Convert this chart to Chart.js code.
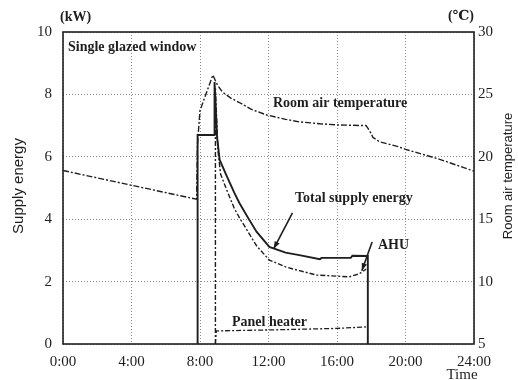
<!DOCTYPE html>
<html>
<head>
<meta charset="utf-8">
<script src="https://cdn.jsdelivr.net/npm/chart.js@4.4.0/dist/chart.umd.min.js"></script>
<style>
  body { margin: 0; background: #fff; }
  #wrap { width: 518px; height: 380px; }
</style>
</head>
<body>
<div id="wrap"><canvas id="energyChart"></canvas></div>
<script>
// hours of day / values
const tempHours  = [0, 7.8, 7.85, 8.0, 8.75, 9.0, 9.3, 9.8, 10.3, 11.0, 11.9, 13.0, 13.8, 15.0, 16.1, 17.7, 17.9, 18.1, 18.5, 19.6, 20.0, 22.0, 24];
const tempValues = [18.9, 16.6, 21.0, 23.7, 26.55, 25.8, 25.2, 24.7, 24.35, 23.8, 23.35, 23.0, 22.8, 22.65, 22.55, 22.5, 22.1, 21.55, 21.2, 20.8, 20.6, 19.8, 18.85];

const totalHours  = [7.86, 7.86, 8.85, 8.85, 9.0, 9.15, 9.55, 10.0, 10.3, 10.8, 11.3, 12.05, 13.0, 13.8, 15.0, 15.1, 16.1, 16.8, 16.9, 17.8, 17.8];
const totalValues = [0, 6.7, 6.7, 8.4, 6.6, 5.9, 5.4, 4.85, 4.52, 4.05, 3.6, 3.11, 2.93, 2.85, 2.72, 2.76, 2.76, 2.76, 2.83, 2.82, 0];

const ahuHours  = [8.9, 8.9, 9.05, 9.2, 9.55, 10.0, 10.3, 10.8, 11.3, 12.05, 13.0, 13.8, 14.8, 16.1, 16.7, 17.3, 17.7];
const ahuValues = [0, 8.2, 6.2, 5.45, 4.95, 4.35, 4.05, 3.6, 3.15, 2.69, 2.47, 2.35, 2.21, 2.17, 2.15, 2.25, 2.4];

const heaterHours  = [8.9, 8.95, 12.0, 16.0, 17.8];
const heaterValues = [0, 0.42, 0.45, 0.5, 0.55];

function toPoints(xs, ys) {
    return xs.map((x, i) => ({ x: x, y: ys[i] }));
}

const serif = '"Liberation Serif", "DejaVu Serif", serif';
const sans = '"Liberation Sans", Arial, sans-serif';
const ink = '#1e1e1e';

function arrow(ctx, x1, y1, x2, y2) {
    ctx.beginPath();
    ctx.moveTo(x1, y1);
    ctx.lineTo(x2, y2);
    ctx.stroke();
    const a = Math.atan2(y2 - y1, x2 - x1);
    ctx.beginPath();
    ctx.moveTo(x2, y2);
    ctx.lineTo(x2 - 8 * Math.cos(a - 0.35), y2 - 8 * Math.sin(a - 0.35));
    ctx.lineTo(x2 - 8 * Math.cos(a + 0.35), y2 - 8 * Math.sin(a + 0.35));
    ctx.closePath();
    ctx.fill();
}

const decorations = {
    id: 'decorations',
    afterDraw(chart) {
        const ctx = chart.ctx;
        const a = chart.chartArea;
        const x = chart.scales.x, y = chart.scales.y;
        ctx.save();
        // frame
        ctx.strokeStyle = ink;
        ctx.lineWidth = 1.6;
        ctx.strokeRect(a.left, a.top, a.right - a.left, a.bottom - a.top);

        ctx.fillStyle = ink;
        ctx.textBaseline = 'middle';
        ctx.font = 'bold 14px ' + serif;
        ctx.textAlign = 'left';
        ctx.fillText('(kW)', a.left - 3, 17);
        ctx.fillText('Single glazed window', a.left + 5, 47);
        ctx.fillText('Room air temperature', 273, 103);
        ctx.fillText('Total supply energy', 295, 198);
        ctx.fillText('AHU', 378, 245);
        ctx.fillText('Panel heater', 232, 322);
        ctx.textAlign = 'right';
        ctx.fillText('(\u2103)', a.right, 16);
        ctx.textAlign = 'center';
        ctx.font = '15px ' + serif;
        ctx.fillText('Time', 462, 375);

        ctx.font = '15px ' + sans;
        ctx.save();
        ctx.translate(19, 186);
        ctx.rotate(-Math.PI / 2);
        ctx.fillText('Supply energy', 0, 0);
        ctx.restore();
        ctx.font = '13px ' + sans;
        ctx.save();
        ctx.translate(508, 176);
        ctx.rotate(-Math.PI / 2);
        ctx.fillText('Room air temperature', 0, 0);
        ctx.restore();

        // pointer arrows
        ctx.lineWidth = 1.6;
        arrow(ctx, x.getPixelForValue(13.4), y.getPixelForValue(4.2),
                   x.getPixelForValue(12.3), y.getPixelForValue(3.05));
        arrow(ctx, x.getPixelForValue(18.05), y.getPixelForValue(3.27),
                   x.getPixelForValue(17.45), y.getPixelForValue(2.35));
        ctx.restore();
    }
};

const ctx = document.getElementById('energyChart').getContext('2d');
new Chart(ctx, {
    type: 'line',
    data: {
        datasets: [
            {
                label: 'Room air temperature',
                data: toPoints(tempHours, tempValues),
                yAxisID: 'y1',
                borderColor: ink,
                borderWidth: 1.4,
                borderDash: [6, 2, 2, 2]
            },
            {
                label: 'Total supply energy',
                data: toPoints(totalHours, totalValues),
                yAxisID: 'y',
                borderColor: ink,
                borderWidth: 1.9
            },
            {
                label: 'AHU',
                data: toPoints(ahuHours, ahuValues),
                yAxisID: 'y',
                borderColor: ink,
                borderWidth: 1.4,
                borderDash: [5, 2, 2, 2]
            },
            {
                label: 'Panel heater',
                data: toPoints(heaterHours, heaterValues),
                yAxisID: 'y',
                borderColor: ink,
                borderWidth: 1.3,
                borderDash: [5, 2, 2, 2]
            }
        ]
    },
    options: {
        responsive: true,
        maintainAspectRatio: false,
        animation: false,
        layout: { padding: { top: 32, left: 0, right: 0, bottom: 0 } },
        elements: { point: { radius: 0 }, line: { tension: 0, fill: false } },
        plugins: { legend: { display: false }, tooltip: { enabled: false } },
        scales: {
            x: {
                type: 'linear',
                min: 0,
                max: 24,
                afterFit: s => { s.height = 36; },
                ticks: {
                    stepSize: 4,
                    padding: 9,
                    color: ink,
                    font: { family: serif, size: 15 },
                    callback: v => v + ':00'
                },
                grid: { color: '#8a8a8a', lineWidth: 1, drawTicks: false },
                border: { display: false, dash: [1, 2] }
            },
            y: {
                position: 'left',
                min: 0,
                max: 10,
                afterFit: s => { s.width = 63; },
                ticks: {
                    stepSize: 2,
                    padding: 11,
                    color: ink,
                    font: { family: serif, size: 15 }
                },
                grid: { color: '#8a8a8a', lineWidth: 1, drawTicks: false },
                border: { display: false, dash: [1, 2] }
            },
            y1: {
                position: 'right',
                min: 5,
                max: 30,
                afterFit: s => { s.width = 44; },
                ticks: {
                    stepSize: 5,
                    padding: 4,
                    color: ink,
                    font: { family: serif, size: 15 }
                },
                grid: { display: false, drawTicks: false },
                border: { display: false }
            }
        }
    },
    plugins: [decorations]
});
</script>
</body>
</html>
